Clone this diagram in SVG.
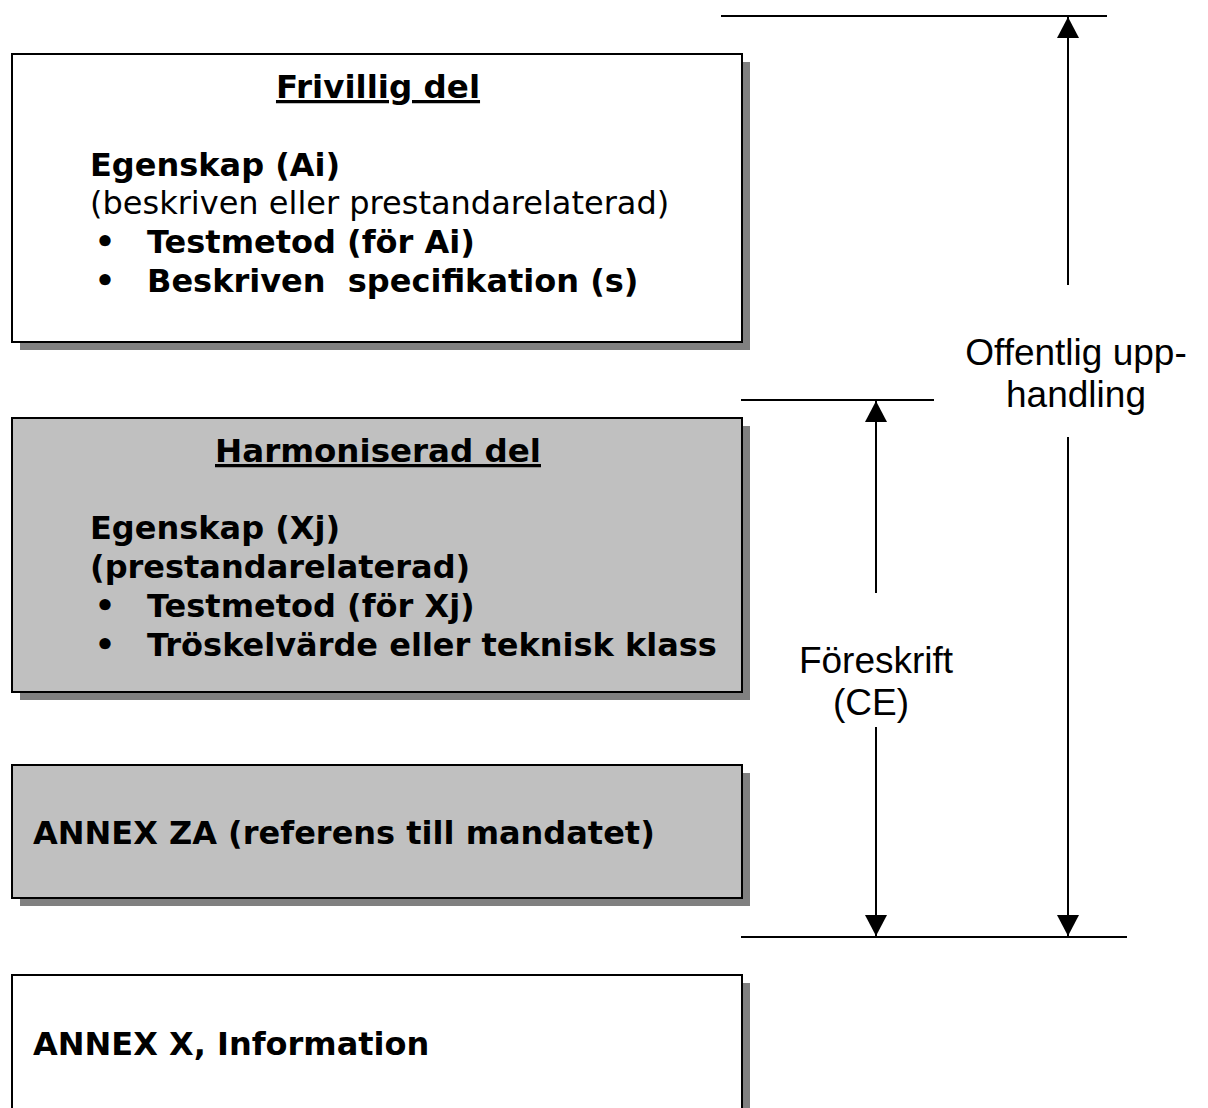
<svg xmlns="http://www.w3.org/2000/svg" width="1208" height="1108" viewBox="0 0 1208 1108">
<style>
.shadow{fill:#808080}
.box{stroke:#000;stroke-width:2}
.white{fill:#fff}
.gray{fill:#c0c0c0}
.b{font-family:"DejaVu Sans",Verdana,sans-serif;font-weight:bold;font-size:32px;fill:#000;white-space:pre}
.r{font-family:"DejaVu Sans",Verdana,sans-serif;font-weight:normal;font-size:32px;fill:#000}
.h{text-anchor:middle;text-decoration:underline;font-size:32.5px}
.bul{text-anchor:middle}
.lab{font-family:"Liberation Sans",Arial,sans-serif;font-size:37px;fill:#000;text-anchor:middle}
.ln{stroke:#000;stroke-width:2;fill:none}
</style>
<defs>
<marker id="ah" markerUnits="userSpaceOnUse" markerWidth="23" markerHeight="23" refX="21" refY="11" orient="auto" viewBox="0 0 23 23">
<path d="M0,0 L21,11 L0,22 z" fill="#000"/>
</marker>
</defs>
<rect width="1208" height="1108" fill="#fff"/>
<g id="frivillig">
<rect class="shadow" x="20" y="62" width="730" height="288"/>
<rect class="box white" x="12" y="54" width="730" height="288"/>
<text class="b h" x="378" y="98">Frivillig del</text>
<text class="b" x="90" y="176">Egenskap (Ai)</text>
<text class="r" x="90" y="214">(beskriven eller prestandarelaterad)</text>
<text class="b bul" x="105" y="253">•</text>
<text class="b" x="147" y="253">Testmetod (för Ai)</text>
<text class="b bul" x="105" y="292">•</text>
<text class="b" x="147" y="292" xml:space="preserve">Beskriven  specifikation (s)</text>
</g>
<g id="harmoniserad">
<rect class="shadow" x="20" y="426" width="730" height="274"/>
<rect class="box gray" x="12" y="418" width="730" height="274"/>
<text class="b h" x="378" y="462">Harmoniserad del</text>
<text class="b" x="90" y="539">Egenskap (Xj)</text>
<text class="b" x="90" y="578">(prestandarelaterad)</text>
<text class="b bul" x="105" y="617">•</text>
<text class="b" x="147" y="617">Testmetod (för Xj)</text>
<text class="b bul" x="105" y="656">•</text>
<text class="b" x="147" y="656">Tröskelvärde eller teknisk klass</text>
</g>
<g id="annexza">
<rect class="shadow" x="20" y="773" width="730" height="133"/>
<rect class="box gray" x="12" y="765" width="730" height="133"/>
<text class="b" x="33" y="844">ANNEX ZA (referens till mandatet)</text>
</g>
<g id="annexx">
<rect class="shadow" x="20" y="983" width="730" height="150"/>
<rect class="box white" x="12" y="975" width="730" height="150"/>
<text class="b" x="33" y="1055">ANNEX X, Information</text>
</g>
<g id="connectors">
<line class="ln" x1="721" y1="16" x2="1107" y2="16"/>
<line class="ln" x1="741" y1="400" x2="934" y2="400"/>
<line class="ln" x1="741" y1="937" x2="1127" y2="937"/>
<line class="ln" x1="1068" y1="285" x2="1068" y2="17" marker-end="url(#ah)"/>
<line class="ln" x1="1068" y1="437" x2="1068" y2="936" marker-end="url(#ah)"/>
<line class="ln" x1="876" y1="593" x2="876" y2="401" marker-end="url(#ah)"/>
<line class="ln" x1="876" y1="727" x2="876" y2="936" marker-end="url(#ah)"/>
</g>
<g id="labels">
<text class="lab" x="1076" y="365">Offentlig upp-</text>
<text class="lab" x="1076" y="407">handling</text>
<text class="lab" x="876" y="673">Föreskrift</text>
<text class="lab" x="871" y="715">(CE)</text>
</g>
</svg>
